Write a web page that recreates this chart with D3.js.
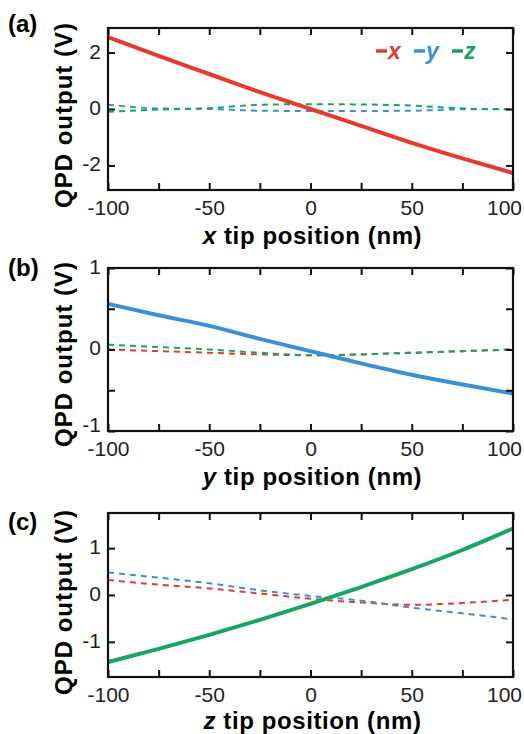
<!DOCTYPE html>
<html>
<head>
<meta charset="utf-8">
<script src="https://cdn.jsdelivr.net/npm/d3@7"></script>
<style>
    body { margin: 0; background: #fff; }
    text { font-family: "Liberation Sans", Arial, sans-serif; }
</style>
</head>
<body>
<div id="chart"></div>
<script>
// tip positions (nm) shared by all three panels
var tipPos = [-100, -75, -50, -25, 0, 25, 50, 75, 100];
var xTicks = [-100, -75, -50, -25, 0, 25, 50, 75, 100];
var xLabels = [-100, -50, 0, 50, 100];

// (a) x scan
var aX = [2.55, 1.88, 1.24, 0.6, 0, -0.6, -1.2, -1.75, -2.27];
var aY = [0.15, 0.02, 0.0, -0.06, -0.07, -0.07, -0.06, -0.01, 0.0];
var aZ = [-0.1, -0.02, 0.03, 0.15, 0.17, 0.16, 0.12, 0.02, -0.02];

// (b) y scan
var bX = [0.0, -0.02, -0.04, -0.06, -0.07, -0.06, -0.04, -0.02, 0.0];
var bY = [0.56, 0.42, 0.29, 0.13, -0.02, -0.17, -0.31, -0.43, -0.54];
var bZ = [0.06, 0.03, 0.0, -0.04, -0.07, -0.06, -0.04, -0.02, 0.0];

// (c) z scan
var cX = [0.32, 0.22, 0.14, 0.03, -0.08, -0.16, -0.21, -0.17, -0.1];
var cY = [0.48, 0.37, 0.25, 0.1, -0.02, -0.12, -0.27, -0.39, -0.52];
var cZ = [-1.43, -1.15, -0.85, -0.53, -0.19, 0.17, 0.55, 0.96, 1.42];

var aTicks = [-2, 0, 2];
var bTicks = [-1, -0.5, 0, 0.5, 1];
var cTicks = [-1, 0, 1];

var legendKeys = ["x", "y", "z"];

window.onload = () => {
    var width = 524;
    var height = 734;
    var left = 108, right = 513;

    var colors = { x: "#e63a2e", y: "#3b8fd4", z: "#17a562" };

    var svg = d3.select("#chart")
        .append("svg")
        .attr("width", width)
        .attr("height", height);

    var x = d3.scaleLinear().domain([-100, 100]).range([left, right]);

    var panels = [
        { tag: "(a)", axis: "x", top: 28, bottom: 190, dom: [-2.87, 2.87], ticks: aTicks,
          series: { x: aX, y: aY, z: aZ }, labelY: 32, titleY: 115, xtOff: 54 },
        { tag: "(b)", axis: "y", top: 268, bottom: 431, dom: [-1, 1], ticks: bTicks,
          series: { x: bX, y: bY, z: bZ }, labelY: 276, titleY: 354, xtOff: 54 },
        { tag: "(c)", axis: "z", top: 513, bottom: 677, dom: [-1.75, 1.75], ticks: cTicks,
          series: { x: cX, y: cY, z: cZ }, labelY: 530, titleY: 602, xtOff: 52 }
    ];

    panels.forEach(p => {
        var y = d3.scaleLinear().domain(p.dom).range([p.bottom, p.top]);
        var g = svg.append("g");

        var line = d3.line()
            .x((d, i) => x(tipPos[i]))
            .y(d => y(d))
            .curve(d3.curveMonotoneX);

        // dashed cross-talk first, driven axis solid on top
        legendKeys.filter(k => k !== p.axis).forEach(k => {
            g.append("path")
                .datum(p.series[k])
                .attr("d", line)
                .attr("fill", "none")
                .attr("stroke", colors[k])
                .attr("stroke-width", 2)
                .attr("stroke-dasharray", "6,5");
        });
        g.append("path")
            .datum(p.series[p.axis])
            .attr("d", line)
            .attr("fill", "none")
            .attr("stroke", colors[p.axis])
            .attr("stroke-width", 4);

        // axes, ticks pointing inward
        var fmt = d => String(d);
        g.append("g")
            .attr("transform", `translate(0,${p.bottom})`)
            .call(d3.axisBottom(x).tickValues(xTicks).tickSize(-7).tickPadding(10)
                .tickFormat(d => xLabels.includes(d) ? fmt(d) : ""));
        g.append("g")
            .attr("transform", `translate(0,${p.top})`)
            .call(d3.axisTop(x).tickValues(xTicks).tickSize(-7).tickFormat(""));
        g.append("g")
            .attr("class", "yax")
            .attr("transform", `translate(${left},0)`)
            .call(d3.axisLeft(y).tickValues(p.ticks).tickSize(-7).tickPadding(7)
                .tickFormat(d => Number.isInteger(d) ? fmt(d) : ""));
        g.append("g")
            .attr("transform", `translate(${right},0)`)
            .call(d3.axisRight(y).tickValues(p.ticks).tickSize(-7).tickFormat(""));

        g.selectAll(".domain").remove();
        g.selectAll(".tick line").attr("stroke", "#111").attr("stroke-width", 2);
        g.selectAll(".tick text")
            .attr("fill", "#222")
            .style("font-size", "21px");
        g.selectAll(".yax .tick text")
            .attr("dy", d => d === p.dom[0] ? "0em" : "0.26em");
        g.selectAll(".tick text")
            .filter(d => d === 100)
            .attr("dx", -9);

        g.append("rect")
            .attr("x", left)
            .attr("y", p.top)
            .attr("width", right - left)
            .attr("height", p.bottom - p.top)
            .attr("fill", "none")
            .attr("stroke", "#111")
            .attr("stroke-width", 2.2);

        // labels
        g.append("text")
            .attr("x", 8)
            .attr("y", p.labelY)
            .style("font-size", "24px")
            .style("font-weight", "bold")
            .text(p.tag);

        g.append("text")
            .attr("transform", `translate(72,${p.titleY}) rotate(-90)`)
            .attr("text-anchor", "middle")
            .style("font-size", "24px")
            .style("font-weight", "bold")
            .style("letter-spacing", "1px")
            .text("QPD output (V)");

        var xt = g.append("text")
            .attr("x", (left + right) / 2 + 2)
            .attr("y", p.bottom + p.xtOff)
            .attr("text-anchor", "middle")
            .style("font-size", "24px")
            .style("font-weight", "bold")
            .style("letter-spacing", "0.6px");
        xt.append("tspan").style("font-style", "italic").text(p.axis);
        xt.append("tspan").text(" tip position (nm)");
    });

    // legend in panel (a)
    var leg = svg.append("g").attr("transform", "translate(376,51)");
    legendKeys.forEach((k, i) => {
        var e = leg.append("g").attr("transform", `translate(${i * 38},0)`);
        e.append("line")
            .attr("x1", 0).attr("x2", 11)
            .attr("y1", 0).attr("y2", 0)
            .attr("stroke", colors[k])
            .attr("stroke-width", 3.5);
        e.append("text")
            .attr("x", 12)
            .attr("y", 8)
            .attr("fill", colors[k])
            .style("font-size", "23px")
            .style("font-weight", "bold")
            .style("font-style", "italic")
            .text(k);
    });
};
</script>
</body>
</html>
